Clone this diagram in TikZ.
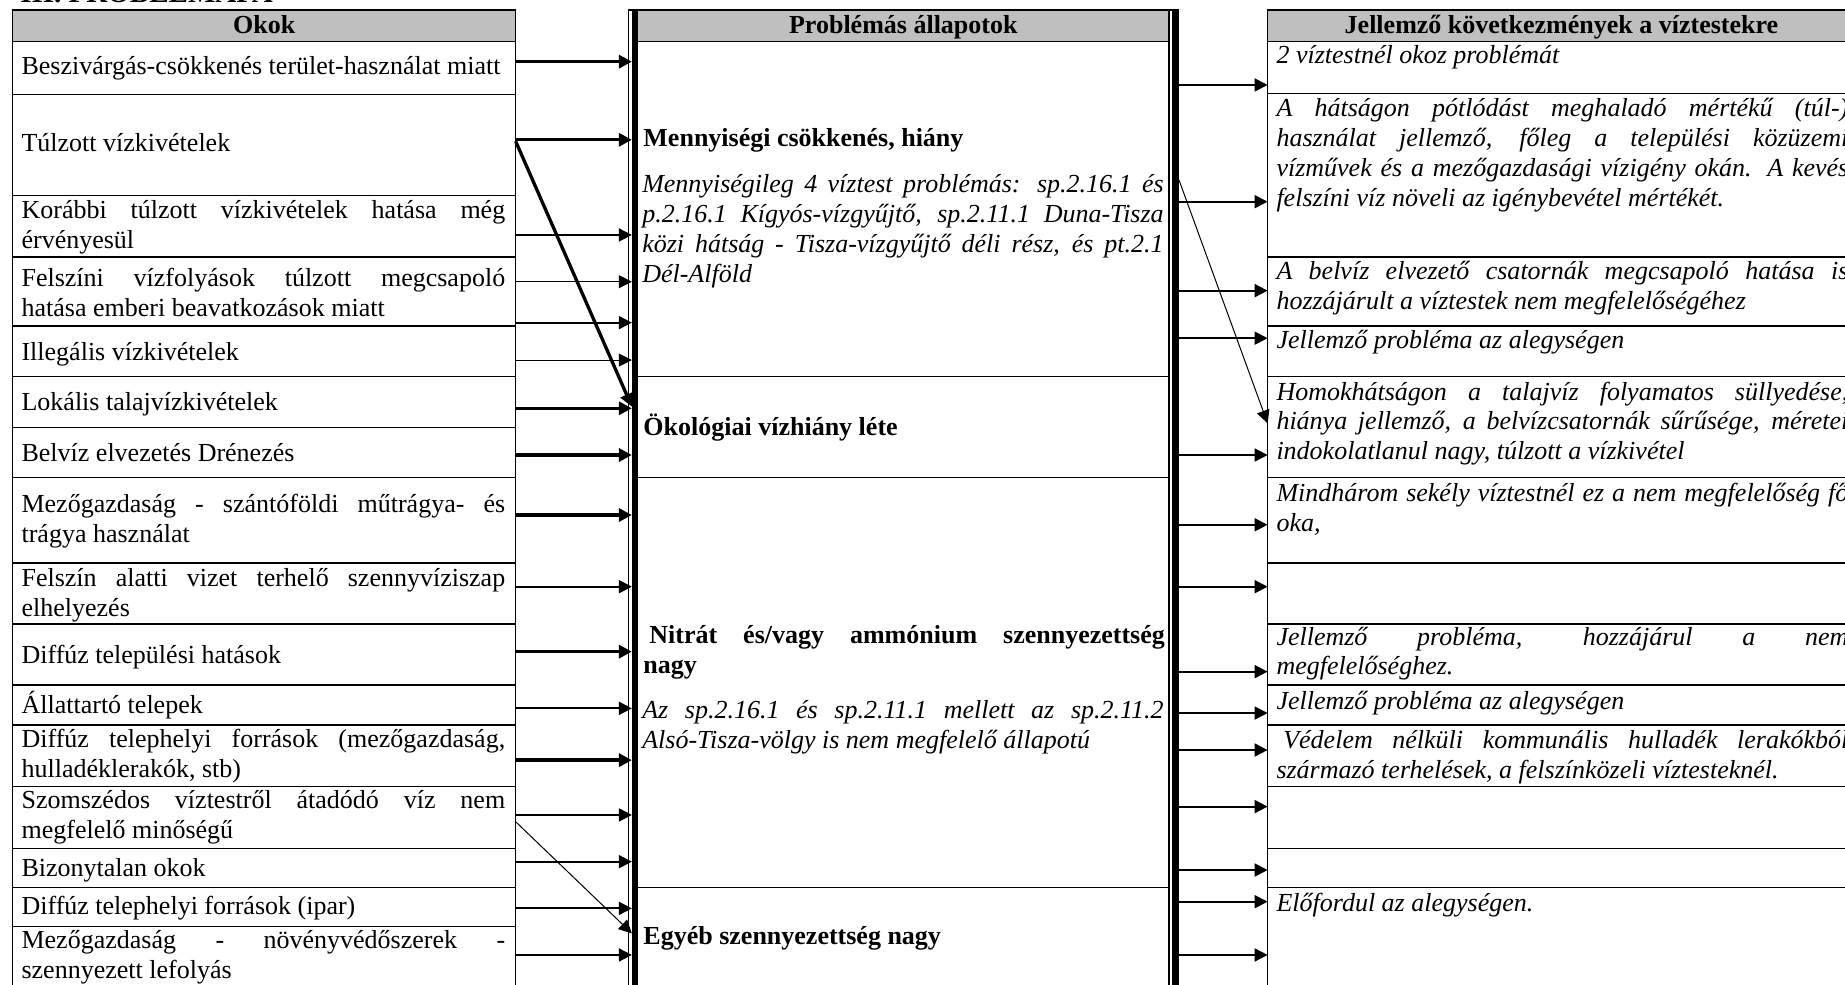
\documentclass[tikz,border=0pt]{standalone}
\usepackage{fontspec}
\setmainfont{Liberation Serif}
\usetikzlibrary{arrows.meta,calc}
\definecolor{HeadClr}{rgb}{0.75,0.75,0.75}
\hyphenpenalty=10000
\exhyphenpenalty=10000
\tolerance=10000
\hbadness=10000

\tikzset{
  txt/.style={inner sep=0pt,anchor=base west,align=justify,
    font=\fontsize{13}{14.9}\selectfont},
  cause/.style={txt,text width=241.8pt},
  statebf/.style={txt,text width=260.7pt,font=\fontsize{13}{14.9}\selectfont\bfseries},
  stateit/.style={txt,text width=260.7pt,font=\fontsize{13}{14.9}\selectfont\itshape},
  effect/.style={txt,text width=285.9pt,font=\fontsize{13}{14.9}\selectfont\itshape},
  head/.style={inner sep=0pt,anchor=base,font=\fontsize{13}{14.9}\selectfont\bfseries},
  rule/.style={line width=0.6pt},
  hrule/.style={line width=1pt},
  tip/.style={-{Triangle[length=6.5pt,width=6.5pt]}},
  thickarr/.style={tip,line width=1.65pt},
  midarr/.style={tip,line width=0.9pt},
  thinarr/.style={tip,line width=0.5pt},
}

\begin{document}
\begin{tikzpicture}[x=0.5883pt,y=-0.5883pt]
\useasboundingbox (0,0) rectangle (1568,837);
\clip (0,0) rectangle (1568,837);

\node[inner sep=0pt,anchor=base west,font=\fontsize{14.5}{16}\selectfont\bfseries] (title) at (17,2.5) {III. PROBLÉMAFA};

% header cells
\fill[HeadClr] (10.8,8.5) rectangle (438.2,35);
\fill[HeadClr] (542,8.5) rectangle (993.5,35);
\fill[HeadClr] (1077.3,8.5) rectangle (1577,35);

% causes
\draw[rule] (10.8,860) -- (10.8,8.5) -- (438.2,8.5) -- (438.2,860);
\foreach \y in {35,80,166.3,218.4,277,320.1,363.5,406,616.1,668.6,720.9,754.1,787.5}
  \draw[rule] (10.8,\y) -- (438.2,\y);
\foreach \y in {478.7,530.3,582.1}
  \draw[hrule] (10.8,\y) -- (438.2,\y);

% states, double frame
\draw[rule] (534,860) -- (534,8.5) -- (1002,8.5);
\draw[line width=3pt] (539.5,8.5) -- (539.5,860);
\draw[rule] (993.5,8.5) -- (993.5,860);
\draw[line width=3.5pt] (999,8.5) -- (999,860);
\foreach \y in {35,320.1,406,754.1}
  \draw[rule] (542,\y) -- (993.5,\y);

% consequences
\draw[rule] (1077.3,860) -- (1077.3,8.5) -- (1577,8.5) -- (1577,860);
\foreach \y in {35,79.3,218.4,277,320.1,406,616.1,668.6,720.9,754.1}
  \draw[rule] (1077.3,\y) -- (1577,\y);
\foreach \y in {478.7,530.3,582.1}
  \draw[hrule] (1077.3,\y) -- (1577,\y);

\node[head] (hOkok) at (224.5,28.3) {Okok};
\node[head] (hAllapot) at (767.7,28.3) {Problémás állapotok};
\node[head] (hKovetk) at (1327,28.3) {Jellemző következmények a víztestekre};

\node[cause] (cause1) at (18,62.9) {Beszivárgás-csökkenés terület-használat miatt};
\node[cause] (cause2) at (18,128.9) {Túlzott vízkivételek};
\node[cause] (cause3) at (18,185.5) {Korábbi túlzott vízkivételek hatása még\linebreak érvényesül};
\node[cause] (cause4) at (18,243.6) {Felszíni vízfolyások túlzott megcsapoló\linebreak hatása emberi beavatkozások miatt};
\node[cause] (cause5) at (18,306) {Illegális vízkivételek};
\node[cause] (cause6) at (18,349) {Lokális talajvízkivételek};
\node[cause] (cause7) at (18,392.4) {Belvíz elvezetés Drénezés};
\node[cause] (cause8) at (18,435.4) {Mezőgazdaság - szántóföldi műtrágya- és\linebreak trágya használat};
\node[cause] (cause9) at (18,498.6) {Felszín alatti vizet terhelő szennyvíziszap\linebreak elhelyezés};
\node[cause] (cause10) at (18,563.7) {Diffúz települési hatások};
\node[cause] (cause11) at (18,606.2) {Állattartó telepek};
\node[cause] (cause12) at (18,635.4) {Diffúz telephelyi források (mezőgazdaság,\linebreak hulladéklerakók, stb)};
\node[cause] (cause13) at (18,687) {Szomszédos víztestről átadódó víz nem\linebreak megfelelő minőségű};
\node[cause] (cause14) at (18,745) {Bizonytalan okok};
\node[cause] (cause15) at (18,777.6) {Diffúz telephelyi források (ipar)};
\node[cause] (cause16) at (18,806) {Mezőgazdaság - növényvédőszerek -\linebreak szennyezett lefolyás};

\node[statebf] (menny) at (546.5,124.7) {Mennyiségi csökkenés, hiány};
\node[stateit] (mennyTxt) at (545.5,163.7) {Mennyiségileg 4 víztest problémás: sp.2.16.1 és\linebreak p.2.16.1 Kígyós-vízgyűjtő, sp.2.11.1 Duna-Tisza\linebreak közi hátság - Tisza-vízgyűjtő déli rész, és pt.2.1\linebreak Dél-Alföld};
\node[statebf] (okol) at (546.5,369.7) {Ökológiai vízhiány léte};
\node[statebf] (nitrat) at (546.5,546.7) {\hspace*{3pt}Nitrát és/vagy ammónium szennyezettség\linebreak nagy};
\node[stateit] (nitratTxt) at (545.5,610.5) {Az sp.2.16.1 és sp.2.11.1 mellett az sp.2.11.2\linebreak Alsó-Tisza-völgy is nem megfelelő állapotú};
\node[statebf] (egyeb) at (546.5,803) {Egyéb szennyezettség nagy};

\node[effect] (eff1) at (1084.5,53.8) {2 víztestnél okoz problémát};
\node[effect] (eff2) at (1084.5,99.2) {A hátságon pótlódást meghaladó mértékű (túl-)\linebreak használat jellemző, főleg a települési közüzemi\linebreak vízművek és a mezőgazdasági vízigény okán. A kevés\linebreak felszíni víz növeli az igénybevétel mértékét.};
\node[effect] (eff3) at (1084.5,237.4) {A belvíz elvezető csatornák megcsapoló hatása is\linebreak hozzájárult a víztestek nem megfelelőségéhez};
\node[effect] (eff4) at (1084.5,296) {Jellemző probléma az alegységen};
\node[effect] (eff5) at (1084.5,340) {Homokhátságon a talajvíz folyamatos süllyedése,\linebreak hiánya jellemző, a belvízcsatornák sűrűsége, méretei\linebreak indokolatlanul nagy, túlzott a vízkivétel};
\node[effect] (eff6) at (1084.5,426.3) {Mindhárom sekély víztestnél ez a nem megfelelőség fő\linebreak oka,};
\node[effect] (eff7) at (1084.5,548.2) {Jellemző probléma, hozzájárul a nem\linebreak megfelelőséghez.};
\node[effect] (eff8) at (1084.5,602.8) {Jellemző probléma az alegységen};
\node[effect] (eff9) at (1084.5,636) {\hspace*{3.4pt}Védelem nélküli kommunális hulladék lerakókból\linebreak származó terhelések, a felszínközeli víztesteknél.};
\node[effect] (eff10) at (1084.5,774.8) {Előfordul az alegységen.};

% causes -> states
\foreach \y/\w [count=\i] in {52.4/thickarr,118.8/thickarr,199.7/midarr,239.4/thinarr,274.2/midarr,
    306/thinarr,347/thickarr,386.7/thickarr,437.7/thickarr,498.6/midarr,553.8/thickarr,
    602/midarr,646/thickarr,692.6/midarr,732.3/midarr,772/midarr,811.6/midarr}{
  \coordinate (ca\i) at (438.2,\y);
  \coordinate (cb\i) at (537,\y);
  \draw[\w] (ca\i) -- (cb\i);
}
\coordinate (tulzFrom) at (438.2,120);
\coordinate (okolTo) at (537,345.6);
\draw[thickarr] (tulzFrom) -- (okolTo);
\coordinate (szomFrom) at (438.2,698.3);
\coordinate (egyebTo) at (537,793.2);
\draw[thinarr] (szomFrom) -- (egyebTo);

% states -> consequences
\foreach \y [count=\i] in {72.2,171.4,247,287.4,386.7,446,498.6,570.8,606,637.4,685.5,739.4,766.3,811.6}{
  \coordinate (ra\i) at (1002,\y);
  \coordinate (rb\i) at (1077.3,\y);
  \draw[midarr] (ra\i) -- (rb\i);
}
\coordinate (mennyFrom) at (1002,153);
\coordinate (homokTo) at (1077.3,359.8);
\draw[thinarr] (mennyFrom) -- (homokTo);

\end{tikzpicture}
\end{document}
